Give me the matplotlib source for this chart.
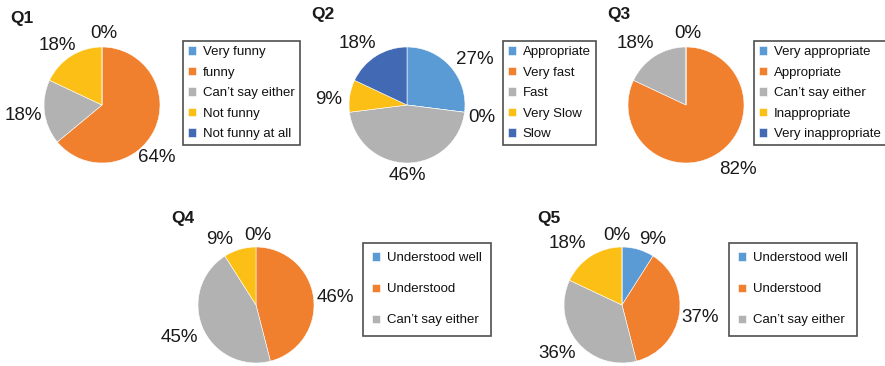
import numpy as np
import matplotlib
matplotlib.use('Agg')
import matplotlib.pyplot as plt

plt.rcParams['font.family'] = ['Liberation Sans', 'DejaVu Sans']

# data
q1_labels = ['Very funny', 'funny', "Can’t say either", 'Not funny', 'Not funny at all']
q1_values = [0, 64, 18, 18, 0]
q2_labels = ['Appropriate', 'Very fast', 'Fast', 'Very Slow', 'Slow']
q2_values = [27, 0, 46, 9, 18]
q3_labels = ['Very appropriate', 'Appropriate', "Can’t say either", 'Inappropriate', 'Very inappropriate']
q3_values = [0, 82, 18, 0, 0]
q4_labels = ['Understood well', 'Understood', "Can’t say either"]
q4_values = [0, 46, 45, 9]
q5_labels = ['Understood well', 'Understood', "Can’t say either"]
q5_values = [9, 37, 36, 18, 0]

# which slices get a percentage label (in slice order)
q1_shown = [0, 1, 2, 3]
q2_shown = [0, 1, 2, 3, 4]
q3_shown = [0, 1, 2]
q4_shown = [0, 1, 2, 3]
q5_shown = [0, 1, 2, 3, 4]

colors = ['#5b9bd5', '#f07f2e', '#b2b2b2', '#fbbf16', '#4169b4']

W, H = 885, 366
fig = plt.figure(figsize=(W / 100, H / 100), dpi=100)

R = 58  # pie radius in px


def draw_pie(title, cx, cy, values, legend_labels, shown, label_pos,
             title_xy, legend_xy, spacing, pad):
    s = 1.7
    ax = fig.add_axes([(cx - R * s) / W, (H - cy - R * s) / H, 2 * R * s / W, 2 * R * s / H])
    wedges, _ = ax.pie(values, colors=colors[:len(values)], startangle=90,
                       counterclock=False, radius=1,
                       wedgeprops=dict(edgecolor='white', linewidth=0.4))
    ax.set_xlim(-s, s)
    ax.set_ylim(-s, s)
    ax.set_aspect('equal')
    ax.axis('off')
    for i, (dx, dy) in zip(shown, label_pos):
        ax.text(dx / R, -dy / R, f'{values[i]}%', ha='center', va='center',
                fontsize=13.5, color='#1a1a1a')
    fig.text(title_xy[0] / W, 1 - title_xy[1] / H, title, fontsize=12.5,
             fontweight='bold', ha='left', va='center', color='#1a1a1a')
    leg = ax.legend(wedges[:len(legend_labels)], legend_labels, loc='upper left',
                    bbox_to_anchor=(legend_xy[0] / W, 1 - legend_xy[1] / H),
                    bbox_transform=fig.transFigure, fontsize=9.5,
                    frameon=True, fancybox=False, edgecolor='#222222',
                    handlelength=0.6, handleheight=0.6, handletextpad=0.5,
                    labelspacing=spacing, borderpad=pad, borderaxespad=0)
    leg.get_frame().set_linewidth(1.2)
    for t in leg.get_texts():
        t.set_color('#111111')


draw_pie('Q1', 102, 105, q1_values, q1_labels, q1_shown,
         [(2, -72), (55, 52), (-79, 10), (-45, -60)],
         (10, 18), (183, 41), 0.64, 0.4)
draw_pie('Q2', 407, 105, q2_values, q2_labels, q2_shown,
         [(68, -46), (75, 12), (0, 71), (-78, -5), (-50, -61)],
         (311, 15), (503, 41), 0.64, 0.4)
draw_pie('Q3', 686, 105, q3_values, q3_labels, q3_shown,
         [(2, -72), (52, 65), (-51, -62)],
         (607, 15), (754, 41), 0.64, 0.4)
draw_pie('Q4', 256, 305, q4_values, q4_labels, q4_shown,
         [(2, -70), (79, -8), (-77, 32), (-36, -66)],
         (171, 218), (363, 243), 1.45, 0.7)
draw_pie('Q5', 622, 305, q5_values, q5_labels, q5_shown,
         [(31, -66), (78, 12), (-65, 49), (-55, -61), (-5, -70)],
         (537, 218), (729, 243), 1.45, 0.7)

fig.savefig('out.png', dpi=100)
